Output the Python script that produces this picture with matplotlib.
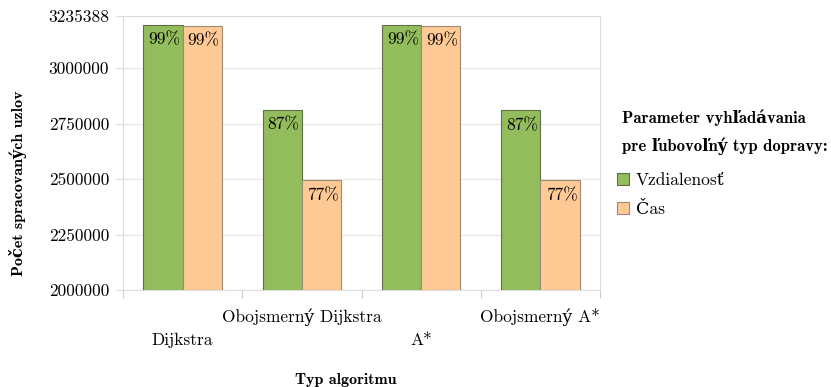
import matplotlib
matplotlib.use("Agg")
import matplotlib.pyplot as plt
import numpy as np
from matplotlib.patches import Patch

categories = ["Dijkstra", "Obojsmerný Dijkstra", "A*", "Obojsmerný A*"]
series_names = ["Vzdialenosť", "Čas"]
vzdialenost = [3196000, 2813000, 3196000, 2810000]
cas = [3192000, 2494000, 3192000, 2494000]
vz_labels = ["99%", "87%", "99%", "87%"]
cas_labels = ["99%", "77%", "99%", "77%"]
yticks = [2000000, 2250000, 2500000, 2750000, 3000000, 3235388]

plt.rcParams['font.family'] = ['cmr10', 'DejaVu Serif']
plt.rcParams['axes.formatter.use_mathtext'] = True
BOLD = ['cmb10', 'DejaVu Serif']

W, H = 831, 387
fig = plt.figure(figsize=(W / 100, H / 100), dpi=100)
ax = fig.add_axes([123 / W, 1 - 290 / H, (600 - 123) / W, (290 - 16) / H])

green = "#93bc5d"
orange = "#ffc995"
x = np.arange(len(categories))
bw = 0.33
b1 = ax.bar(x - bw / 2, vzdialenost, bw, color=green, edgecolor="#5e6e45", linewidth=0.8, zorder=3)
b2 = ax.bar(x + bw / 2, cas, bw, color=orange, edgecolor="#9c8a78", linewidth=0.8, zorder=3)

for rects, labs in ((b1, vz_labels), (b2, cas_labels)):
    for r, lab in zip(rects, labs):
        ax.annotate(lab, (r.get_x() + r.get_width() / 2, r.get_height()),
                    xytext=(1, -5.5), textcoords="offset points",
                    ha="center", va="top", fontsize=12.5, zorder=4)

ax.set_ylim(2000000, 3235388)
ax.set_xlim(-0.5, len(categories) - 0.5)
ax.set_yticks(yticks)
ax.set_yticklabels([str(v) for v in yticks], fontsize=12.5)

ax.set_xticks(x)
ax.set_xticklabels([("\n" + c) if i % 2 == 0 else c for i, c in enumerate(categories)], fontsize=12.5)
for t in ax.get_xticklabels():
    t.set_linespacing(1.7)
ax.tick_params(axis="x", which="major", length=0, pad=13.5)
ax.set_xticks(np.arange(len(categories) + 1) - 0.5, minor=True)
ax.tick_params(axis="x", which="minor", length=6, color="#cccccc", width=0.8)
ax.tick_params(axis="y", length=5, color="#dddddd", width=0.8, pad=5)

ax.grid(axis="y", color="#e6e6e6", linewidth=0.8, zorder=0)
for s in ax.spines.values():
    s.set_color("#dddddd")
    s.set_linewidth(0.8)

fig.text(18 / W, 1 - 183 / H, "Počet spracovaných uzlov", rotation=90,
         ha="center", va="center", fontsize=11.5, family=BOLD, weight="bold")
fig.text(346 / W, 1 - 380 / H, "Typ algoritmu", ha="center", va="center",
         fontsize=11.5, family=BOLD, weight="bold")

fig.text(622 / W, 1 - 118 / H, "Parameter vyhľadávania", ha="left", va="center",
         fontsize=12, family=BOLD, weight="bold")
fig.text(622 / W, 1 - 146 / H, "pre ľubovoľný typ dopravy:", ha="left", va="center",
         fontsize=12, family=BOLD, weight="bold")

handles = [Patch(facecolor=green, edgecolor="#5e6e45", linewidth=0.8),
           Patch(facecolor=orange, edgecolor="#9c8a78", linewidth=0.8)]
fig.legend(handles, series_names, loc="upper left", bbox_to_anchor=(617 / W, 1 - 173 / H),
           frameon=False, fontsize=12.5, handlelength=0.7, handleheight=0.7,
           handletextpad=0.4, labelspacing=0.75, borderaxespad=0, borderpad=0)

fig.savefig("out.png", dpi=100)
